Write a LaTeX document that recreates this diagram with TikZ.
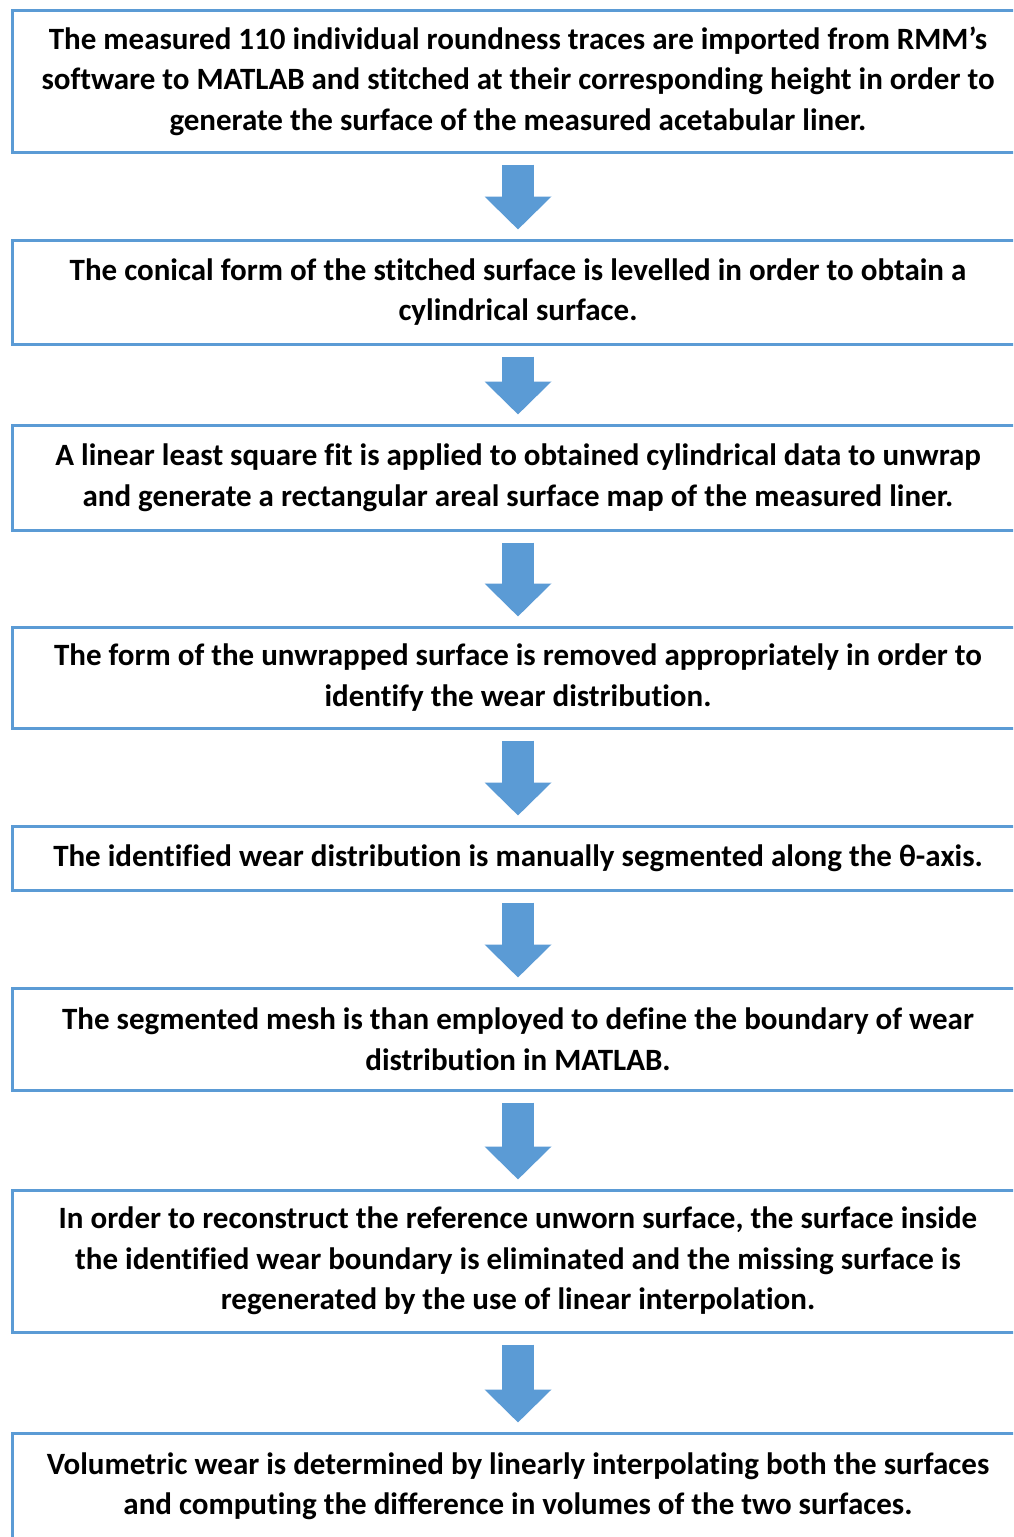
\documentclass[tikz,border=0pt]{standalone}
\usepackage{fontspec}
\setmainfont[Ligatures=NoCommon]{Carlito}
\usetikzlibrary{arrows.meta}
\definecolor{boxblue}{HTML}{5B9BD5}

\tikzset{
  stepbox/.style={draw=boxblue, line width=1.5pt, fill=white,
    minimum width=506pt, inner sep=0pt, align=center,
    font=\bfseries\fontsize{15.5}{20.25}\selectfont},
  flowarrow/.style={boxblue, line width=16pt,
    -{Triangle[width=32.5pt, length=16.5pt]},
    shorten <=5.5pt, shorten >=4.5pt}
}

\begin{document}
\begin{tikzpicture}[x=0.5pt, y=-0.5pt]
  % page frame, boxes run off the right edge
  \path[use as bounding box, fill=white] (0,0) rectangle (1013,1537);
  \clip (0,0) rectangle (1013,1537);

  % the eight steps
  \node[stepbox, minimum height=71pt] (s1) at (518,81)
    {The measured 110 individual roundness traces are imported from RMM’s\\
     software to MATLAB and stitched at their corresponding height in order to\\
     generate the surface of the measured acetabular liner.};
  \node[stepbox, minimum height=52pt] (s2) at (518,292)
    {The conical form of the stitched surface is levelled in order to obtain a\\
     cylindrical surface.};
  \node[stepbox, minimum height=52.5pt] (s3) at (518,477.5)
    {A linear least square fit is applied to obtained cylindrical data to unwrap\\
     and generate a rectangular areal surface map of the measured liner.};
  \node[stepbox, minimum height=50.5pt] (s4) at (518,677.5)
    {The form of the unwrapped surface is removed appropriately in order to\\
     identify the wear distribution.};
  \node[stepbox, minimum height=32pt] (s5) at (518,858)
    {The identified wear distribution is manually segmented along the θ-axis.};
  \node[stepbox, minimum height=51pt] (s6) at (518,1039)
    {The segmented mesh is than employed to define the boundary of wear\\
     distribution in MATLAB.};
  \node[stepbox, minimum height=71pt] (s7) at (518,1261)
    {In order to reconstruct the reference unworn surface, the surface inside\\
     the identified wear boundary is eliminated and the missing surface is\\
     regenerated by the use of linear interpolation.};
  \node[stepbox, minimum height=53pt] (s8) at (518,1486)
    {Volumetric wear is determined by linearly interpolating both the surfaces\\
     and computing the difference in volumes of the two surfaces.};

  % block arrows between steps
  \foreach \a/\b in {s1/s2, s2/s3, s3/s4, s4/s5, s5/s6, s6/s7, s7/s8}
    \draw[flowarrow] (\a.south) -- (\b.north);
\end{tikzpicture}
\end{document}
